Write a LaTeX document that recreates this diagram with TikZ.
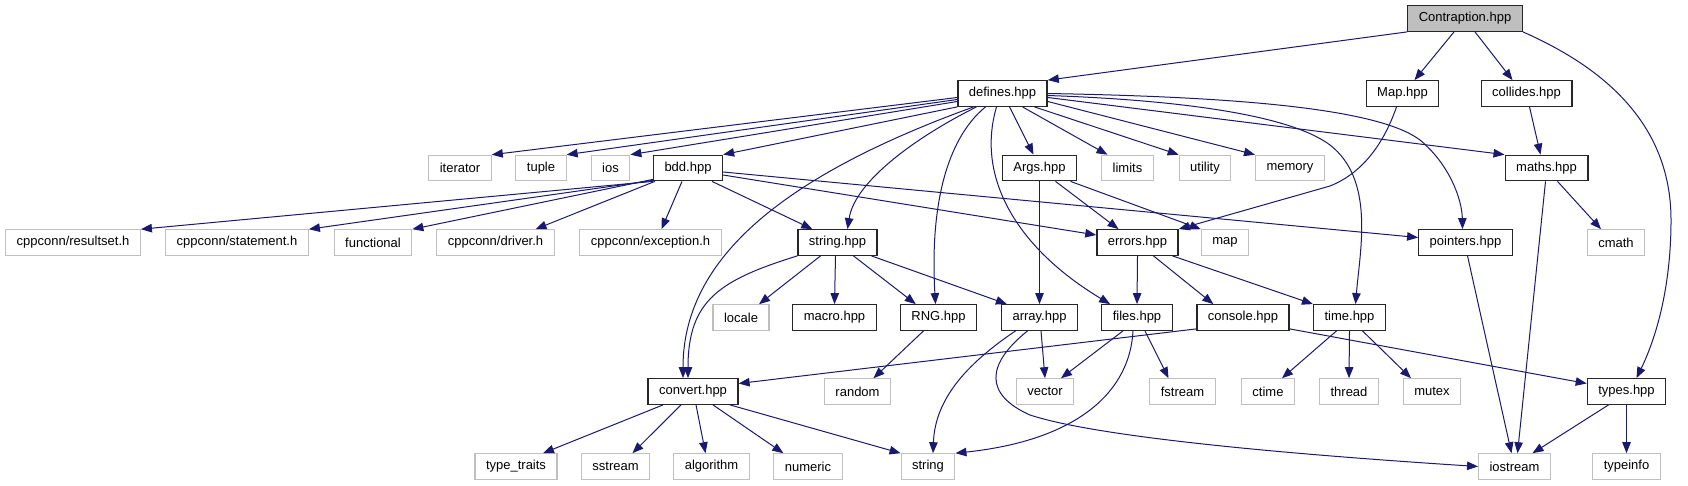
\documentclass[tikz,border=0pt]{standalone}
\usepackage{fontspec}
\setmainfont{Liberation Sans}
\usetikzlibrary{arrows.meta}
\definecolor{edgeblue}{HTML}{191970}
\definecolor{sysgray}{HTML}{BFBFBF}
\tikzset{
  box/.style={rectangle, inner xsep=11pt, inner ysep=0pt, minimum height=25.5pt, fill=white,
    font=\fontsize{13}{15}\selectfont, text=black},
  proj/.style={box, draw=black!85, line width=1.3pt},
  sys/.style={box, draw=sysgray, line width=1.1pt},
  root/.style={box, draw=black!85, line width=1.3pt, fill=sysgray},
  e/.style={draw=edgeblue, line width=1pt, -{Triangle[length=11pt,width=8.5pt]}}
}
\begin{document}
\begin{tikzpicture}[x=1pt,y=-1pt]
\useasboundingbox (0,0) rectangle (1688,485);
% row 0
\node[root] (C) at (1465,18.5) {Contraption.hpp};
% row 1
\node[proj] (defines) at (1002.5,93.5) {defines.hpp};
\node[proj] (Map) at (1402.5,93.5) {Map.hpp};
\node[proj] (collides) at (1526.5,93.5) {collides.hpp};
% row 2
\node[sys] (iterator) at (460,168) {iterator};
\node[sys] (tuple) at (541,168) {tuple};
\node[sys] (ios) at (610.5,168) {ios};
\node[proj] (bdd) at (688,168) {bdd.hpp};
\node[proj] (Args) at (1039.5,168) {Args.hpp};
\node[sys] (limits) at (1127.5,168) {limits};
\node[sys] (utility) at (1205,168) {utility};
\node[sys] (memory) at (1290,168) {memory};
\node[proj] (maths) at (1546.5,168) {maths.hpp};
% row 3
\node[sys] (resultset) at (73,242.5) {cppconn/resultset.h};
\node[sys] (statement) at (237,242.5) {cppconn/statement.h};
\node[sys] (functional) at (373,242.5) {functional};
\node[sys] (driver) at (495.5,242.5) {cppconn/driver.h};
\node[sys] (exception) at (650.5,242.5) {cppconn/exception.h};
\node[proj] (stringhpp) at (837.5,242.5) {string.hpp};
\node[proj] (errors) at (1137.5,242.5) {errors.hpp};
\node[sys] (mapstd) at (1225,242.5) {map};
\node[proj] (pointers) at (1465.5,242.5) {pointers.hpp};
\node[sys] (cmath) at (1616,242.5) {cmath};
% row 4
\node[sys] (locale) at (741,317.5) {locale};
\node[proj] (macro) at (834.5,317.5) {macro.hpp};
\node[proj] (RNG) at (938.5,317.5) {RNG.hpp};
\node[proj] (array) at (1039.5,317.5) {array.hpp};
\node[proj] (files) at (1137,317.5) {files.hpp};
\node[proj] (console) at (1243,317.5) {console.hpp};
\node[proj] (timehpp) at (1349.5,317.5) {time.hpp};
% row 5
\node[proj] (convert) at (693,391.5) {convert.hpp};
\node[sys] (random) at (857.5,391.5) {random};
\node[sys] (vector) at (1045,391.5) {vector};
\node[sys] (fstream) at (1182.5,391.5) {fstream};
\node[sys] (ctime) at (1268,391.5) {ctime};
\node[sys] (thread) at (1349,391.5) {thread};
\node[sys] (mutex) at (1432,391.5) {mutex};
\node[proj] (types) at (1626.5,391.5) {types.hpp};
% row 6
\node[sys] (typetraits) at (516,466.5) {type\_traits};
\node[sys] (sstream) at (615.5,466.5) {sstream};
\node[sys] (algorithm) at (711.5,466.5) {algorithm};
\node[sys] (numeric) at (808,466.5) {numeric};
\node[sys] (string) at (928,466.5) {string};
\node[sys] (iostream) at (1514.5,466.5) {iostream};
\node[sys] (typeinfo) at (1626.5,466.5) {typeinfo};

% Contraption
\draw[e] (C.south west) -- (defines.north east);
\draw[e] ([xshift=-11pt]C.south) -- ([xshift=12pt]Map.north);
\draw[e] ([xshift=10pt]C.south) -- ([xshift=-14pt]collides.north);
\draw[e] (C.south east) .. controls (1598,65) and (1671,120) .. (1671,220) .. controls (1671,290) and (1655,340) .. ([xshift=10pt]types.north);
% defines
\draw[e] ([yshift=-4pt]defines.west) -- (iterator.north east);
\draw[e] ([yshift=-6pt]defines.west) -- (tuple.north east);
\draw[e] ([yshift=-8pt]defines.west) -- (ios.north east);
\draw[e] (defines.south west) -- (bdd.north east);
\draw[e] ([xshift=-29pt]defines.south) .. controls (800,170) and (683,250) .. ([xshift=-10pt]convert.north);
\draw[e] ([xshift=-26pt]defines.south) .. controls (920,135) and (855,180) .. ([xshift=10pt]stringhpp.north);
\draw[e] ([xshift=-17pt]defines.south) .. controls (945,140) and (930,210) .. ([xshift=-3pt]RNG.north);
\draw[e] ([xshift=-6pt]defines.south) .. controls (975,180) and (1020,250) .. ([xshift=9pt]files.north west);
\draw[e] ([xshift=7pt]defines.south) -- ([xshift=-6pt]Args.north);
\draw[e] ([xshift=20pt]defines.south) -- ([xshift=-20pt]limits.north);
\draw[e] ([xshift=32pt]defines.south) -- (utility.north west);
\draw[e] ([yshift=-8pt]defines.east) -- (memory.north west);
\draw[e] ([yshift=-4pt]defines.east) -- (maths.north west);
\draw[e] ([yshift=-2pt]defines.east) .. controls (1180,100) and (1290,115) .. (1330,145) .. controls (1375,180) and (1360,250) .. ([xshift=6pt]timehpp.north);
\draw[e] (defines.east) .. controls (1250,97) and (1380,110) .. (1420,140) .. controls (1450,165) and (1462,200) .. ([xshift=-3pt]pointers.north);
% Map, collides, maths, pointers, types
\draw[e] ([xshift=-6pt]Map.south) .. controls (1385,140) and (1365,172) .. (1330,186) -- (errors.north east);
\draw[e] ([xshift=3pt]collides.south) -- ([xshift=-6pt]maths.north);
\draw[e] ([xshift=11pt]maths.south) -- ([xshift=-15pt]cmath.north);
\draw[e] ([xshift=-1pt]maths.south) -- ([xshift=3pt]iostream.north);
\draw[e] ([xshift=2pt]pointers.south) -- ([xshift=-3pt]iostream.north);
\draw[e] ([xshift=-18pt]types.south) -- ([xshift=18pt]iostream.north);
\draw[e] (types.south) -- (typeinfo.north);
% bdd
\draw[e] (bdd.south west) -- (resultset.north east);
\draw[e] ([yshift=1pt]bdd.south west) -- (statement.north east);
\draw[e] ([yshift=2pt]bdd.south west) -- (functional.north east);
\draw[e] ([xshift=2pt]bdd.south west) -- ([xshift=40pt]driver.north);
\draw[e] ([xshift=-6pt]bdd.south) -- ([xshift=11pt]exception.north);
\draw[e] ([xshift=24pt]bdd.south) -- ([xshift=15pt]stringhpp.north west);
\draw[e] ([yshift=-7pt]bdd.east) -- ([yshift=7.5pt]errors.west);
\draw[e] ([yshift=-4pt]bdd.east) -- ([yshift=5pt]pointers.west);
% Args
\draw[e] ([xshift=16pt]Args.south) -- ([xshift=-19pt]errors.north);
\draw[e] ([xshift=31pt]Args.south) -- (mapstd.north west);
\draw[e] (Args.south) -- (array.north);
% string.hpp
\draw[e] (stringhpp.south west) .. controls (720,280) and (688,300) .. ([xshift=-5pt]convert.north);
\draw[e] ([xshift=-17pt]stringhpp.south) -- ([xshift=18pt]locale.north);
\draw[e] ([xshift=-2pt]stringhpp.south) -- (macro.north);
\draw[e] ([xshift=16pt]stringhpp.south) -- ([xshift=16pt]RNG.north west);
\draw[e] ([xshift=34pt]stringhpp.south) -- ([xshift=6pt]array.north west);
% errors
\draw[e] (errors.south) -- (files.north);
\draw[e] ([xshift=16pt]errors.south) -- ([xshift=17pt]console.north west);
\draw[e] ([xshift=35pt]errors.south) -- (timehpp.north west);
% row 4 sources
\draw[e] ([xshift=-15pt]RNG.south) -- ([xshift=16pt]random.north);
\draw[e] ([xshift=-24pt]array.south) .. controls (965,365) and (935,400) .. ([xshift=5pt]string.north);
\draw[e] ([xshift=1.5pt]array.south) -- (vector.north);
\draw[e] ([xshift=-12pt]array.south) .. controls (985,365) and (985,395) .. (1030,415) .. controls (1100,438) and (1300,455) .. (iostream.west);
\draw[e] ([xshift=-14pt]files.south) -- ([xshift=16pt]vector.north);
\draw[e] ([xshift=8pt]files.south) -- ([xshift=-14pt]fstream.north);
\draw[e] ([xshift=-4pt]files.south) .. controls (1130,390) and (1080,440) .. (string.north east);
\draw[e] ([yshift=2pt]console.south west) -- ([yshift=8pt]convert.east);
\draw[e] ([yshift=2pt]console.south east) -- ([yshift=8pt]types.west);
\draw[e] ([xshift=-13pt]timehpp.south) -- ([xshift=14pt]ctime.north);
\draw[e] (timehpp.south) -- (thread.north);
\draw[e] ([xshift=13pt]timehpp.south) -- ([xshift=-21pt]mutex.north);
% convert
\draw[e] ([xshift=-30pt]convert.south) -- ([xshift=27pt]typetraits.north);
\draw[e] ([xshift=-12pt]convert.south) -- ([xshift=17pt]sstream.north);
\draw[e] ([xshift=3pt]convert.south) -- ([xshift=-6pt]algorithm.north);
\draw[e] ([xshift=20pt]convert.south) -- ([xshift=10pt]numeric.north west);
\draw[e] ([xshift=37pt]convert.south) -- (string.north west);
\end{tikzpicture}
\end{document}
